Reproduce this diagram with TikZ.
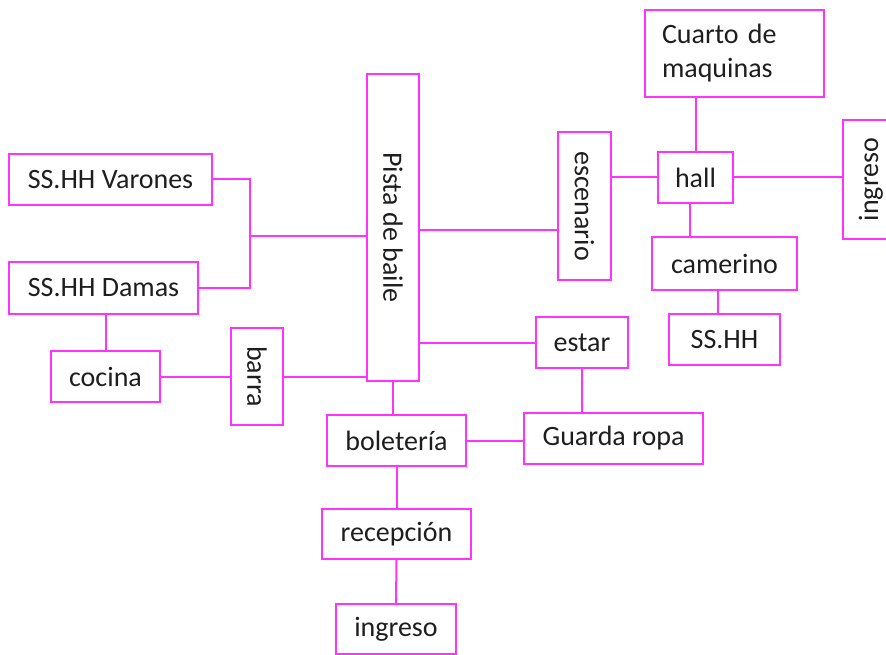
\documentclass[tikz,border=0pt]{standalone}
\usepackage{fontspec}
\setmainfont{Carlito}

\definecolor{rosa}{HTML}{FF33FF}
\definecolor{texto}{HTML}{1E1E1E}

\tikzset{
  caja/.style={draw=rosa, line width=2pt, inner sep=0pt, text=texto,
    font=\fontsize{28}{34}\selectfont},
  vertical/.style={caja, rotate=-90},
  conexion/.style={draw=rosa, line width=2pt},
}

\begin{document}
\begin{tikzpicture}[x = 1pt, y = -1pt]

    % Marco
    \useasboundingbox (0,0) rectangle (886,655);
    \clip (0,0) rectangle (886,655);

    % Servicios a la izquierda
    \node[caja, minimum width=203pt, minimum height=51pt] (varones) at (110.5,179.5) {SS.HH Varones};
    \node[caja, minimum width=189pt, minimum height=52pt] (damas) at (103.5,288) {SS.HH Damas};
    \node[caja, minimum width=109pt, minimum height=51pt] (cocina) at (105.5,376.5) {cocina};
    \node[vertical, minimum width=97pt, minimum height=52pt] (barra) at (257,376.5) {barra};

    % Pista central
    \node[vertical, minimum width=307pt, minimum height=52pt] (pista) at (393,227.5) {Pista de baile};

    % Escenario y zona de artistas
    \node[vertical, minimum width=148pt, minimum height=53pt] (escenario) at (584.5,206) {escenario};
    \node[caja, minimum width=179pt, minimum height=87pt, text width=145pt, align=left] (cuarto) at (734.5,53.5) {Cuarto de\\maquinas};
    \node[caja, minimum width=75pt, minimum height=51pt] (hall) at (695.5,177.5) {hall};
    \node[caja, rotate=90, minimum width=119pt, minimum height=56pt] (ingresoart) at (871,179.5) {ingreso};
    \node[caja, minimum width=145pt, minimum height=53pt] (camerino) at (724.5,263.5) {camerino};
    \node[caja, minimum width=111pt, minimum height=51pt] (sshh) at (724.5,339.5) {SS.HH};

    % Acceso del publico
    \node[caja, minimum width=92pt, minimum height=51pt] (estar) at (582,342.5) {estar};
    \node[caja, minimum width=139pt, minimum height=51pt] (boleteria) at (396.5,440.5) {boletería};
    \node[caja, minimum width=179pt, minimum height=51pt] (guarda) at (613.5,438.5) {Guarda ropa};
    \node[caja, minimum width=149pt, minimum height=50pt] (recepcion) at (396.5,534) {recepción};
    \node[caja, minimum width=120pt, minimum height=50pt] (ingreso) at (396,629) {ingreso};

    % Union de los servicios
    \coordinate (union) at (250,236);
    \draw[conexion] (varones.east) -| (union) |- (damas.east);
    \draw[conexion] (union) -- (union -| pista.south);
    \draw[conexion] (damas.south -| cocina.north) -- (cocina.north);
    \draw[conexion] (cocina.east) -- (barra.south);
    \draw[conexion] (barra.north) -- (barra.north -| pista.south);

    % Desde la pista
    \draw[conexion] ([yshift=-24pt]escenario.south -| pista.north) -- ([yshift=-24pt]escenario.south);
    \draw[conexion] (estar.west -| pista.north) -- (estar.west);
    \draw[conexion] (pista.east) -- (pista.east |- boleteria.north);

    % Zona de artistas
    \draw[conexion] (hall.north |- cuarto.south) -- (hall.north);
    \draw[conexion] (hall.west -| escenario.north) -- (hall.west);
    \draw[conexion] (hall.east) -- (hall.east -| ingresoart.north);
    \draw[conexion] ([xshift=-6pt]hall.south) -- ([xshift=-6pt]hall.south |- camerino.north);
    \draw[conexion] ([xshift=-7pt]camerino.south) -- ([xshift=-7pt]sshh.north);

    % Recorrido de ingreso
    \draw[conexion] (estar.south) -- (estar.south |- guarda.north);
    \draw[conexion] (boleteria.east) -- (boleteria.east -| guarda.west);
    \draw[conexion] (boleteria.south) -- (recepcion.north);
    \draw[conexion] (recepcion.south) -- (ingreso.north);

\end{tikzpicture}
\end{document}
